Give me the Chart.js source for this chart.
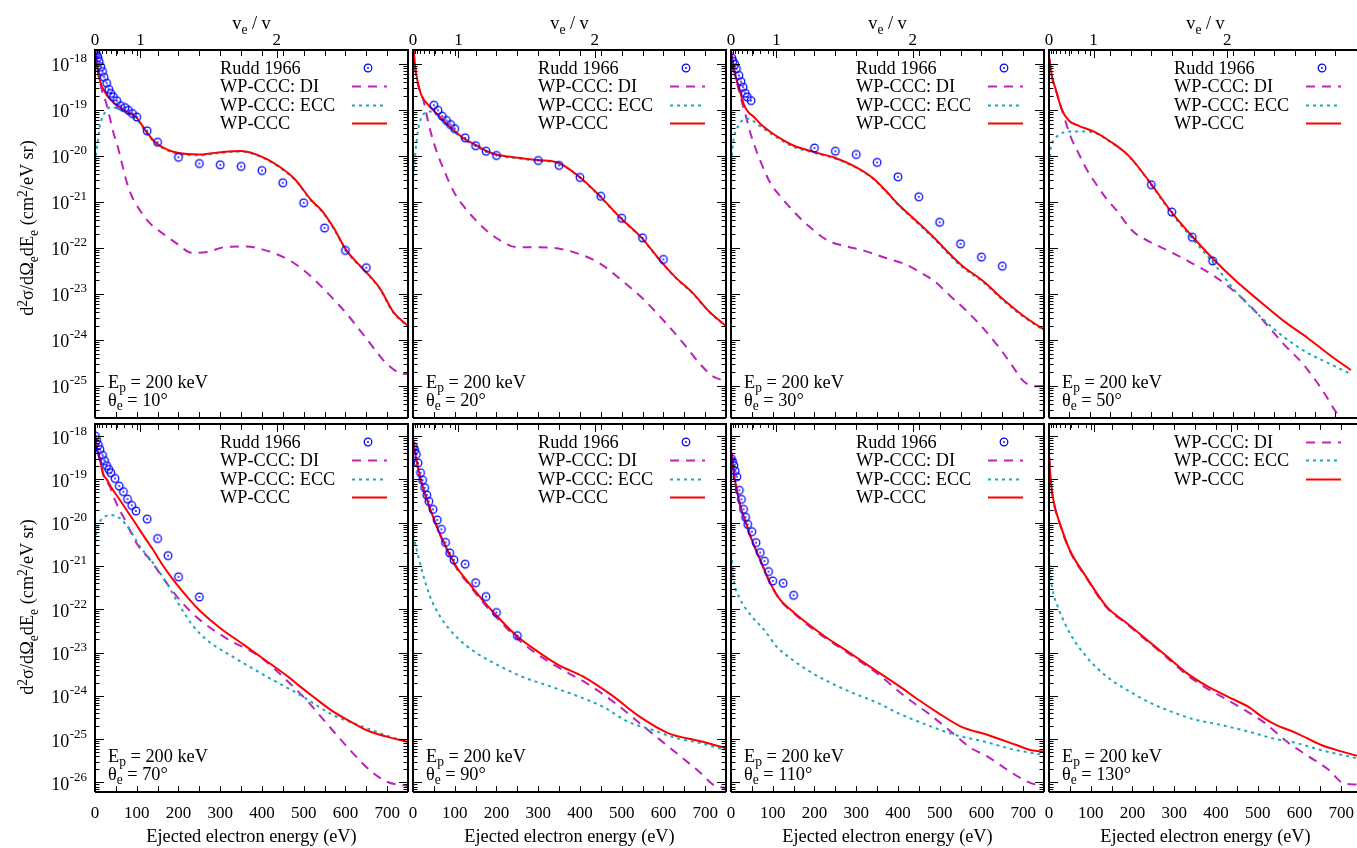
<!DOCTYPE html>
<html>
<head>
<meta charset="utf-8">
<title>WP-CCC vs Rudd 1966</title>
<script src="https://cdn.jsdelivr.net/npm/chart.js@4.4.1/dist/chart.umd.min.js"></script>
<style>
html,body{margin:0;padding:0;background:#fff;}
#wrap{position:relative;width:1357px;height:848px;overflow:hidden;background:#fff;font-family:"Liberation Serif","Times New Roman",serif;color:#000;}
#wrap canvas{position:absolute;left:0;top:0;}
.tx{position:absolute;white-space:nowrap;font-size:18.3px;line-height:19px;height:19px;}
.tx sub{position:relative;top:0.34em;font-size:0.74em;vertical-align:baseline;line-height:0;}
.tx sup{position:relative;top:-0.45em;font-size:0.74em;vertical-align:baseline;line-height:0;}
</style>
</head>
<body>
<div id="wrap"></div>
<script>
// ---------------- DATA ----------------
const angles = [10, 20, 30, 50, 70, 90, 110, 130];
const xTickLabels = [0, 100, 200, 300, 400, 500, 600, 700];
const veTickLabels = [0, 1, 2];
const legendLabels = ["Rudd 1966", "WP-CCC: DI", "WP-CCC: ECC", "WP-CCC"];
const protonEnergyKeV = 200;

// theta = 10
const rudd10E = [1, 4, 7, 10, 14, 18, 22, 28, 33, 38, 44, 52, 61, 72, 80, 90, 100, 125, 150, 200, 250, 300, 350, 400, 450, 500, 550, 600, 650];
const rudd10V = [1.7e-18, 1.58e-18, 1.38e-18, 1.12e-18, 8.7e-19, 6.8e-19, 5.1e-19, 3.8e-19, 2.8e-19, 2.27e-19, 1.92e-19, 1.58e-19, 1.23e-19, 1.12e-19, 9.8e-20, 8.3e-20, 7.0e-20, 3.5e-20, 1.98e-20, 9.3e-21, 6.8e-21, 6.4e-21, 5.9e-21, 4.8e-21, 2.6e-21, 9.5e-22, 2.7e-22, 8.8e-23, 3.7e-23];
const ccc10E = [1, 4, 8, 12, 16, 22, 28, 35, 48, 73, 100, 122, 147, 175, 200, 250, 300, 350, 403, 451, 479, 519, 543, 571, 603, 651, 683, 715, 750];
const ccc10V = [1.8e-18, 1.1e-18, 6.0e-19, 4.3e-19, 3.3e-19, 2.6e-19, 2.1e-19, 1.75e-19, 1.35e-19, 9.4e-20, 6.7e-20, 3.45e-20, 1.87e-20, 1.35e-20, 1.15e-20, 1.07e-20, 1.2e-20, 1.28e-20, 9.3e-21, 5.1e-21, 3.1e-21, 1.07e-21, 6.5e-22, 2.8e-22, 8.7e-23, 2.9e-23, 1.3e-23, 4e-24, 2.0e-24];
const ecc10E = [0, 2, 5, 8, 12, 20, 30, 40, 50, 73, 100, 122, 147, 175, 200, 250, 300, 350, 403, 451, 479, 519, 543, 571, 603, 651, 683, 715, 750];
const ecc10V = [5e-21, 1.0e-20, 1.6e-20, 2.5e-20, 4.6e-20, 7.6e-20, 1.05e-19, 1.15e-19, 1.1e-19, 8.6e-20, 6.2e-20, 3.3e-20, 1.8e-20, 1.3e-20, 1.1e-20, 1.03e-20, 1.16e-20, 1.24e-20, 9.0e-21, 4.9e-21, 3.0e-21, 1.03e-21, 6.3e-22, 2.7e-22, 8.4e-23, 2.8e-23, 1.26e-23, 3.9e-24, 1.95e-24];
const di10E = [1, 4, 8, 12, 16, 20, 26, 36, 44, 54, 64, 74, 88, 108, 132, 164, 196, 232, 268, 315, 363, 411, 467, 515, 555, 603, 651, 699, 731, 750];
const di10V = [1.8e-18, 1.1e-18, 5.9e-19, 4.0e-19, 2.8e-19, 2.0e-19, 1.5e-19, 6.5e-20, 3.2e-20, 1.66e-20, 7.2e-21, 3.1e-21, 1.34e-21, 6.5e-22, 3.4e-22, 2.0e-22, 1.24e-22, 7.8e-23, 8.1e-23, 1.05e-22, 1.07e-22, 8.7e-23, 5.3e-23, 2.5e-23, 1.1e-23, 3.7e-24, 1.05e-24, 3.0e-25, 1.9e-25, 1.8e-25];

// theta = 20
const rudd20E = [50, 60, 70, 80, 90, 100, 125, 150, 175, 200, 300, 350, 400, 450, 500, 550, 600];
const rudd20V = [1.26e-19, 9.8e-20, 7.3e-20, 5.9e-20, 4.8e-20, 3.9e-20, 2.46e-20, 1.66e-20, 1.26e-20, 1.02e-20, 7.9e-21, 6.2e-21, 3.4e-21, 1.32e-21, 4.4e-22, 1.65e-22, 5.6e-23];
const ccc20E = [1, 3, 7, 12, 20, 36, 51, 75, 99, 124, 148, 173, 200, 251, 299, 348, 397, 448, 497, 548, 597, 631, 670, 709, 750];
const ccc20V = [2.0e-18, 1.4e-18, 6.5e-19, 3.8e-19, 2.1e-19, 1.3e-19, 9.3e-20, 5.6e-20, 3.5e-20, 2.3e-20, 1.78e-20, 1.31e-20, 1.07e-20, 9.1e-21, 8.1e-21, 7.1e-21, 3.6e-21, 1.33e-21, 4.5e-22, 1.65e-22, 4.7e-23, 2.2e-23, 1.05e-23, 4.2e-24, 2.0e-24];
const ecc20E = [0.5, 4, 12, 24, 40, 51, 75, 99, 124, 148, 173, 200, 251, 299, 348, 397, 448, 497, 548, 597, 631, 670, 709, 750];
const ecc20V = [3.5e-21, 8e-21, 3.6e-20, 7.7e-20, 9.2e-20, 8.6e-20, 5.3e-20, 3.3e-20, 2.2e-20, 1.7e-20, 1.26e-20, 1.03e-20, 8.8e-21, 7.8e-21, 6.9e-21, 3.5e-21, 1.3e-21, 4.4e-22, 1.6e-22, 4.6e-23, 2.15e-23, 1.02e-23, 4.1e-24, 1.95e-24];
const di20E = [1, 3, 7, 12, 18, 26, 36, 51, 75, 99, 124, 148, 178, 212, 246, 299, 348, 397, 446, 499, 553, 601, 650, 689, 719, 750];
const di20V = [2.0e-18, 1.35e-18, 6.2e-19, 3.5e-19, 2.4e-19, 1.5e-19, 5.6e-20, 1.78e-20, 4.7e-21, 1.58e-21, 7.5e-22, 4.2e-22, 2.3e-22, 1.39e-22, 1.04e-22, 1.03e-22, 9.7e-23, 7.4e-23, 4.7e-23, 2.0e-23, 7.5e-24, 2.6e-24, 8e-25, 2.9e-25, 1.6e-25, 1.26e-25];

// theta = 30
const rudd30E = [2, 5, 9, 13, 19, 24, 29, 34, 39, 48, 200, 250, 300, 350, 400, 450, 500, 550, 600, 650];
const rudd30V = [1.35e-18, 1.14e-18, 9.7e-19, 7.8e-19, 5.6e-19, 4.1e-19, 3.1e-19, 2.3e-19, 1.9e-19, 1.59e-19, 1.48e-20, 1.26e-20, 1.07e-20, 7.2e-21, 3.5e-21, 1.29e-21, 3.6e-22, 1.22e-22, 6.3e-23, 4.0e-23];
const ccc30E = [1, 3, 7, 12, 21, 31, 41, 55, 70, 99, 125, 148, 201, 250, 295, 340, 372, 400, 449, 483, 551, 604, 652, 701, 750];
const ccc30V = [1.8e-18, 1.3e-18, 8.0e-19, 5.0e-19, 2.6e-19, 1.3e-19, 9.0e-20, 7.0e-20, 5.0e-20, 3.1e-20, 2.2e-20, 1.7e-20, 1.2e-20, 9.0e-21, 6.0e-21, 3.3e-21, 1.7e-21, 9.0e-22, 3.5e-22, 1.78e-22, 4.3e-23, 1.9e-23, 7.6e-24, 3.3e-24, 1.66e-24];
const ecc30E = [0.5, 2, 6, 17, 31, 43, 55, 70, 99, 125, 148, 201, 250, 295, 340, 372, 400, 449, 483, 551, 604, 652, 701, 750];
const ecc30V = [5e-21, 1.0e-20, 2.2e-20, 4.4e-20, 6.2e-20, 6.4e-20, 5.6e-20, 4.4e-20, 2.9e-20, 2.05e-20, 1.6e-20, 1.15e-20, 8.7e-21, 5.8e-21, 3.2e-21, 1.65e-21, 8.7e-22, 3.3e-22, 1.7e-22, 4.0e-23, 1.8e-23, 7.2e-24, 3.15e-24, 1.6e-24];
const di30E = [1, 3, 7, 12, 20, 27, 35, 47, 71, 95, 119, 157, 196, 235, 274, 322, 371, 420, 449, 487, 526, 565, 604, 643, 672, 701, 730, 750];
const di30V = [1.8e-18, 1.3e-18, 7.8e-19, 4.8e-19, 2.4e-19, 1.38e-19, 7.7e-20, 3.0e-20, 7.5e-21, 2.5e-21, 1.3e-21, 5.3e-22, 2.5e-22, 1.39e-22, 1.09e-22, 8.5e-23, 6.0e-23, 4.3e-23, 3.1e-23, 1.9e-23, 8.9e-24, 4.2e-24, 1.8e-24, 6.7e-25, 2.9e-25, 1.26e-25, 9.8e-26, 1e-25];

// theta = 50
const rudd50E = [250, 300, 350, 400];
const rudd50V = [2.35e-21, 6.0e-22, 1.7e-22, 5.2e-23];
const ccc50E = [1, 7, 17, 31, 49, 73, 110, 150, 195, 249, 297, 346, 399, 457, 515, 574, 632, 690, 738];
const ccc50V = [1.3e-18, 5.5e-19, 2.7e-19, 1.02e-19, 5.8e-20, 4.5e-20, 3.35e-20, 2.05e-20, 1.0e-20, 2.5e-21, 6.4e-22, 1.95e-22, 6.0e-23, 1.9e-23, 6.9e-24, 2.55e-24, 1.1e-24, 4.4e-25, 2.2e-25];
const ecc50E = [0.3, 2, 5, 12, 25, 49, 73, 110, 150, 195, 249, 297, 346, 399, 457, 515, 574, 632, 690, 738];
const ecc50V = [4.7e-21, 9e-21, 1.6e-20, 2.2e-20, 2.9e-20, 3.4e-20, 3.4e-20, 3.2e-20, 2.0e-20, 9.8e-21, 2.4e-21, 6.0e-22, 1.75e-22, 5.0e-23, 1.1e-23, 3.3e-24, 1.15e-24, 5.2e-25, 2.9e-25, 1.8e-25];
const di50E = [1, 7, 17, 29, 53, 73, 93, 117, 137, 165, 205, 244, 293, 341, 399, 448, 496, 535, 574, 622, 670, 700, 738];
const di50V = [1.3e-18, 5.3e-19, 2.6e-19, 1.2e-19, 2.6e-20, 1.1e-20, 4.9e-21, 2.3e-21, 1.28e-21, 6.5e-22, 2.3e-22, 1.39e-22, 8.5e-23, 5.1e-23, 2.6e-23, 1.23e-23, 5e-24, 2e-24, 8e-25, 2.9e-25, 7.6e-26, 2.8e-26, 1e-26];

// theta = 70
const rudd70E = [1, 4, 8, 12, 18, 23, 28, 33, 38, 48, 58, 68, 78, 88, 98, 125, 150, 175, 200, 250];
const rudd70V = [1.0e-18, 8.1e-19, 6.2e-19, 4.9e-19, 3.6e-19, 2.7e-19, 2.07e-19, 1.7e-19, 1.42e-19, 1.05e-19, 7.0e-20, 5.2e-20, 3.5e-20, 2.5e-20, 1.86e-20, 1.21e-20, 4.3e-21, 1.73e-21, 5.6e-22, 1.92e-22];
const ccc70E = [1, 3, 7, 12, 20, 28, 40, 60, 92, 123, 140, 162, 188, 228, 250, 298, 357, 405, 464, 491, 523, 571, 610, 651, 699, 748];
const ccc70V = [9.5e-19, 6.5e-19, 4.3e-19, 2.8e-19, 1.3e-19, 1.0e-19, 6.3e-20, 3.3e-20, 1.14e-20, 4.0e-21, 2.3e-21, 1.05e-21, 4.7e-22, 1.6e-22, 9.5e-23, 3.8e-23, 1.5e-23, 7.0e-24, 2.7e-24, 1.65e-24, 9.5e-25, 4.3e-25, 2.6e-25, 1.6e-25, 1.14e-25, 8.7e-26];
const ecc70E = [0.3, 4, 8, 20, 36, 60, 84, 108, 140, 172, 204, 236, 268, 331, 411, 491, 571, 651, 700, 748];
const ecc70V = [3.6e-21, 6.5e-21, 9e-21, 1.3e-20, 1.5e-20, 1.26e-20, 6.7e-21, 2.8e-21, 1.14e-21, 4.0e-22, 1.15e-22, 4.0e-23, 1.95e-23, 7.9e-24, 2.8e-24, 1.05e-24, 3.6e-25, 1.8e-25, 1.2e-25, 8.7e-26];
const di70E = [1, 3, 7, 12, 20, 28, 36, 48, 72, 100, 132, 172, 204, 252, 316, 395, 459, 507, 555, 611, 659, 699, 748];
const di70V = [9.5e-19, 6.5e-19, 4.2e-19, 2.7e-19, 1.25e-19, 9e-20, 6.7e-20, 3.3e-20, 1.14e-20, 3.3e-21, 1.38e-21, 4.0e-22, 1.6e-22, 5.6e-23, 2.1e-23, 8e-24, 2.3e-24, 7.9e-25, 2.3e-25, 5.6e-26, 1.9e-26, 1.04e-26, 8.3e-27];

// theta = 90
const rudd90E = [1, 4, 8, 12, 18, 23, 28, 33, 38, 48, 58, 68, 78, 88, 98, 125, 150, 175, 200, 250];
const rudd90V = [5.7e-19, 4.8e-19, 3.8e-19, 2.4e-19, 1.42e-19, 9.6e-20, 6.4e-20, 4.35e-20, 3.1e-20, 2.03e-20, 1.15e-20, 7.0e-21, 3.5e-21, 2.0e-21, 1.38e-21, 1.1e-21, 4.1e-22, 1.96e-22, 8.4e-23, 2.45e-23];
const ccc90E = [1, 2, 7, 17, 31, 51, 75, 104, 134, 173, 202, 251, 299, 348, 407, 475, 543, 611, 689, 748];
const ccc90V = [7.5e-19, 6.2e-19, 3.3e-19, 1.15e-19, 4.0e-20, 1.15e-20, 3.3e-21, 9.6e-22, 4e-22, 1.38e-22, 6.8e-23, 2.3e-23, 1.05e-23, 5.2e-24, 2.8e-24, 1.05e-24, 3.3e-25, 1.38e-25, 8.9e-26, 6.2e-26];
const ecc90E = [0.3, 7, 21, 41, 65, 104, 153, 202, 260, 329, 397, 455, 514, 572, 631, 689, 748];
const ecc90V = [5.2e-21, 2.8e-21, 8.1e-22, 1.96e-22, 6.8e-23, 2.3e-23, 9.6e-24, 5.2e-24, 2.8e-24, 1.65e-24, 9.6e-25, 5.6e-25, 2.55e-25, 1.65e-25, 1.05e-25, 8.1e-26, 5.6e-26];
const di90E = [1, 7, 17, 31, 51, 75, 104, 134, 173, 202, 251, 299, 358, 416, 485, 533, 592, 641, 689, 719, 748];
const di90V = [7.3e-19, 3.2e-19, 1.1e-19, 3.8e-20, 1.1e-20, 3.1e-21, 9e-22, 3.7e-22, 1.25e-22, 6.2e-23, 2.05e-23, 9.0e-24, 4e-24, 1.95e-24, 6.7e-25, 2.8e-25, 9.6e-26, 4e-26, 1.65e-26, 8.9e-27, 7.4e-27];

// theta = 110
const rudd110E = [1, 4, 7, 10, 14, 20, 25, 30, 35, 40, 50, 60, 70, 80, 90, 100, 125, 150];
const rudd110V = [3.0e-19, 2.56e-19, 2.07e-19, 1.56e-19, 1.15e-19, 5.6e-20, 3.45e-20, 2.03e-20, 1.33e-20, 9.1e-21, 6.2e-21, 3.45e-21, 2.04e-21, 1.29e-21, 7.4e-22, 4.5e-22, 4.0e-22, 2.1e-22];
const ccc110E = [0.5, 2, 7, 14, 23, 36, 50, 70, 94, 118, 148, 177, 225, 274, 332, 410, 449, 497, 551, 614, 682, 720, 750];
const ccc110V = [4.2e-19, 3.6e-19, 1.38e-19, 5.6e-20, 2.3e-20, 9.6e-21, 4e-21, 1.38e-21, 4e-22, 1.65e-22, 8.9e-23, 5.2e-23, 2.35e-23, 1.15e-23, 4.8e-24, 1.5e-24, 8.1e-25, 4e-25, 1.95e-25, 1.26e-25, 7.4e-26, 5.5e-26, 5.2e-26];
const ecc110E = [0.3, 7, 21, 50, 80, 109, 148, 196, 274, 352, 400, 468, 536, 604, 682, 750];
const ecc110V = [1.95e-21, 4.5e-22, 1.8e-22, 6.8e-23, 3.3e-23, 1.38e-23, 6.7e-24, 3.3e-24, 1.38e-24, 6.8e-25, 4e-25, 2.15e-25, 1.26e-25, 8.9e-26, 5.6e-26, 4.3e-26];
const di110E = [0.5, 2, 7, 14, 23, 36, 50, 70, 94, 118, 148, 177, 225, 274, 332, 352, 415, 478, 536, 575, 614, 662, 701, 730, 750];
const di110V = [4.2e-19, 3.6e-19, 1.37e-19, 5.5e-20, 2.25e-20, 9.4e-21, 3.9e-21, 1.35e-21, 3.9e-22, 1.6e-22, 8.5e-23, 4.9e-23, 2.2e-23, 1.08e-23, 4.4e-24, 3.2e-24, 1.0e-24, 3.6e-25, 1.26e-25, 6.2e-26, 4e-26, 1.95e-26, 1.15e-26, 8.9e-27, 8.7e-27];

// theta = 130 (no Rudd data)
const ccc130E = [0.5, 4, 12, 26, 50, 89, 138, 186, 235, 283, 331, 380, 428, 477, 516, 545, 593, 651, 700, 738];
const ccc130V = [3.3e-19, 9.6e-20, 2.8e-20, 9.6e-21, 2.3e-21, 5.6e-22, 1.15e-22, 4.8e-23, 1.95e-23, 8.1e-24, 3.3e-24, 1.65e-24, 9.6e-25, 5.6e-25, 3.0e-25, 2.1e-25, 1.38e-25, 7.4e-26, 5.2e-26, 4.1e-26];
const ecc130E = [0.3, 7, 21, 50, 89, 138, 186, 244, 302, 351, 409, 477, 535, 593, 651, 738];
const ecc130V = [1.15e-21, 3.3e-22, 1.15e-22, 2.8e-23, 8.1e-24, 2.8e-24, 1.38e-24, 6.8e-25, 4e-25, 2.8e-25, 2.15e-25, 1.5e-25, 1.05e-25, 8.1e-26, 5.6e-26, 3.6e-26];
const di130E = [0.5, 4, 12, 26, 50, 89, 138, 186, 235, 283, 331, 380, 428, 477, 516, 545, 574, 622, 670, 705, 738];
const di130V = [3.2e-19, 9.4e-20, 2.7e-20, 9.3e-21, 2.2e-21, 5.4e-22, 1.1e-22, 4.6e-23, 1.85e-23, 7.6e-24, 3.0e-24, 1.45e-24, 8e-25, 4.2e-25, 2.4e-25, 1.4e-25, 8.1e-26, 4e-26, 1.95e-26, 9.6e-27, 8.9e-27];

// ---------------- LAYOUT / STYLE ----------------
const PAGE_W = 1357, PAGE_H = 848;
const colLeft = [95, 413, 731, 1049];
const rowTop = [50, 424];
const rowHeight = [368, 368];
const panelWidth = 313;
const xFullMax = 750;
const yRanges = [[2e-26, 2e-18], [6e-27, 1.9e-18]];
const COL_DI = '#bb22bb', COL_ECC = '#1fa9b8', COL_CCC = '#ff0000', COL_RUDD = '#0000ff';
const FONT = '"Liberation Serif","Times New Roman",serif';

const panels = [
  {rudd: [rudd10E, rudd10V], ccc: [ccc10E, ccc10V], ecc: [ecc10E, ecc10V], di: [di10E, di10V]},
  {rudd: [rudd20E, rudd20V], ccc: [ccc20E, ccc20V], ecc: [ecc20E, ecc20V], di: [di20E, di20V]},
  {rudd: [rudd30E, rudd30V], ccc: [ccc30E, ccc30V], ecc: [ecc30E, ecc30V], di: [di30E, di30V]},
  {rudd: [rudd50E, rudd50V], ccc: [ccc50E, ccc50V], ecc: [ecc50E, ecc50V], di: [di50E, di50V]},
  {rudd: [rudd70E, rudd70V], ccc: [ccc70E, ccc70V], ecc: [ecc70E, ecc70V], di: [di70E, di70V]},
  {rudd: [rudd90E, rudd90V], ccc: [ccc90E, ccc90V], ecc: [ecc90E, ecc90V], di: [di90E, di90V]},
  {rudd: [rudd110E, rudd110V], ccc: [ccc110E, ccc110V], ecc: [ecc110E, ecc110V], di: [di110E, di110V]},
  {rudd: null, ccc: [ccc130E, ccc130V], ecc: [ecc130E, ecc130V], di: [di130E, di130V]}
];

const pts = (E, V) => E.map((x, i) => ({x: x, y: V[i]}));

function makeMarker() {
  const c = document.createElement('canvas');
  c.width = 12; c.height = 12;
  const g = c.getContext('2d');
  g.strokeStyle = COL_RUDD; g.lineWidth = 1.25;
  g.beginPath(); g.arc(6, 6, 3.8, 0, 2 * Math.PI); g.stroke();
  g.fillStyle = COL_RUDD;
  g.beginPath(); g.arc(6, 6, 0.9, 0, 2 * Math.PI); g.fill();
  return c;
}
const marker = makeMarker();

// electron energy (eV) for a given v_e/v at the proton energy
const eFromVe = (r) => protonEnergyKeV * 1000 / 1836.15 * r * r;

const gpPlugin = {
  id: 'gp',
  afterDraw(chart) {
    const o = chart.options.plugins.gp;
    const ctx = chart.ctx, a = chart.chartArea, xs = chart.scales.x, ys = chart.scales.y;
    ctx.save();
    ctx.strokeStyle = '#000';
    ctx.lineWidth = 1;
    ctx.beginPath();
    const lmin = Math.floor(Math.log10(ys.min)), lmax = Math.ceil(Math.log10(ys.max));
    for (let e = lmin; e <= lmax; e++) {
      for (let m = 1; m <= 9; m++) {
        const v = m * Math.pow(10, e);
        if (v < ys.min || v > ys.max) continue;
        const py = Math.round(ys.getPixelForValue(v)) + 0.5;
        const len = m === 1 ? 9 : 4.5;
        ctx.moveTo(a.left, py); ctx.lineTo(a.left + len, py);
        if (!o.clipRight) { ctx.moveTo(a.right, py); ctx.lineTo(a.right - len, py); }
      }
    }
    for (let t = 0; t <= xFullMax; t += 50) {
      if (t > xs.max) continue;
      const px = Math.round(xs.getPixelForValue(t)) + 0.5;
      ctx.moveTo(px, a.bottom); ctx.lineTo(px, a.bottom - 6);
      ctx.moveTo(px, a.top); ctx.lineTo(px, a.top + 6);
    }
    for (let k = 1; k <= 9; k++) {
      const px = Math.round(xs.getPixelForValue(eFromVe(k / 10))) + 0.5;
      ctx.moveTo(px, a.top); ctx.lineTo(px, a.top + 4);
    }
    veTickLabels.forEach(r => {
      const px = Math.round(xs.getPixelForValue(eFromVe(r))) + 0.5;
      ctx.moveTo(px, a.top); ctx.lineTo(px, a.top + 8);
    });
    ctx.stroke();

    ctx.lineWidth = 2;
    ctx.beginPath();
    ctx.moveTo(a.left, a.bottom); ctx.lineTo(a.left, a.top);
    ctx.lineTo(o.clipRight ? PAGE_W : a.right, a.top);
    if (!o.clipRight) ctx.lineTo(a.right, a.bottom);
    ctx.moveTo(o.clipRight ? PAGE_W : a.right, a.bottom); ctx.lineTo(a.left, a.bottom);
    ctx.stroke();

    ctx.fillStyle = '#000';
    if (o.yLabels) {
      for (let e = lmin; e <= lmax; e++) {
        const v = Math.pow(10, e);
        if (v < ys.min || v > ys.max) continue;
        const py = ys.getPixelForValue(v);
        const exp = String(e);
        ctx.font = '13px ' + FONT;
        const we = ctx.measureText(exp).width;
        const right = a.left - 8;
        ctx.textAlign = 'left'; ctx.textBaseline = 'alphabetic';
        ctx.fillText(exp, right - we, py - 1.5);
        ctx.font = '18px ' + FONT;
        ctx.textAlign = 'right';
        ctx.fillText('10', right - we - 0.5, py + 7.5);
      }
    }
    if (o.xLabels) {
      ctx.font = '17px ' + FONT;
      ctx.textAlign = 'center'; ctx.textBaseline = 'alphabetic';
      xTickLabels.forEach(t => {
        if (t > xs.max) return;
        ctx.fillText(String(t), xs.getPixelForValue(t), a.bottom + 25.5);
      });
    }
    if (o.topLabels) {
      ctx.font = '17px ' + FONT;
      ctx.textAlign = 'center'; ctx.textBaseline = 'alphabetic';
      veTickLabels.forEach(r => {
        ctx.fillText(String(r), xs.getPixelForValue(eFromVe(r)), a.top - 5);
      });
    }
    const ds = chart.data.datasets;
    o.legendKeys.forEach((key, i) => {
      const d = ds.find(s => s.key === key);
      if (!d) return;
      const y = Math.round(a.top + 18 + i * 18.3) + 0.5;
      const x1 = a.left + 257, x2 = a.left + 292;
      if (key === 'rudd') {
        ctx.drawImage(marker, a.left + 273 - 6, y - 6.5);
      } else {
        ctx.save();
        ctx.strokeStyle = d.borderColor;
        ctx.lineWidth = d.borderWidth;
        ctx.setLineDash(d.borderDash || []);
        ctx.beginPath(); ctx.moveTo(x1, y); ctx.lineTo(x2, y); ctx.stroke();
        ctx.restore();
      }
    });
    ctx.restore();
  }
};

const wrap = document.getElementById('wrap');

function addText(html, x, y, mode) {
  const d = document.createElement('div');
  d.className = 'tx';
  d.innerHTML = html;
  d.style.left = x + 'px';
  d.style.top = y + 'px';
  let tr = 'translateY(-50%)';
  if (mode === 'center') tr = 'translate(-50%,-50%)';
  if (mode === 'rot') tr = 'translate(-50%,-50%) rotate(-90deg)';
  d.style.transform = tr;
  wrap.appendChild(d);
}

panels.forEach((p, k) => {
  const col = k % 4, row = Math.floor(k / 4);
  const L = colLeft[col], T = rowTop[row], H = rowHeight[row];
  const W = Math.min(panelWidth, PAGE_W - L);
  const clipRight = (L + panelWidth > PAGE_W);
  const xmax = xFullMax * W / panelWidth;
  const cv = document.createElement('canvas');
  cv.width = PAGE_W; cv.height = PAGE_H;
  wrap.appendChild(cv);

  const datasets = [];
  const legendKeys = [];
  if (p.rudd) {
    datasets.push({key: 'rudd', label: legendLabels[0], data: pts(p.rudd[0], p.rudd[1]), showLine: false,
      pointStyle: marker, pointRadius: 5, borderColor: COL_RUDD, backgroundColor: COL_RUDD});
    legendKeys.push('rudd');
  }
  datasets.push({key: 'ccc', label: legendLabels[3], data: pts(p.ccc[0], p.ccc[1]), showLine: true,
    borderColor: COL_CCC, borderWidth: 2, pointRadius: 0, cubicInterpolationMode: 'monotone'});
  datasets.push({key: 'ecc', label: legendLabels[2], data: pts(p.ecc[0], p.ecc[1]), showLine: true,
    borderColor: COL_ECC, borderWidth: 2, borderDash: [3, 4], pointRadius: 0, cubicInterpolationMode: 'monotone'});
  datasets.push({key: 'di', label: legendLabels[1], data: pts(p.di[0], p.di[1]), showLine: true,
    borderColor: COL_DI, borderWidth: 2, borderDash: [9, 7], pointRadius: 0, cubicInterpolationMode: 'monotone'});
  legendKeys.push('di', 'ecc', 'ccc');

  new Chart(cv, {
    type: 'scatter',
    data: {datasets: datasets},
    options: {
      responsive: false,
      animation: false,
      events: [],
      layout: {padding: {left: L, top: T, right: PAGE_W - L - W, bottom: PAGE_H - T - H}},
      scales: {
        x: {type: 'linear', min: 0, max: xmax, display: false},
        y: {type: 'logarithmic', min: yRanges[row][0], max: yRanges[row][1], display: false}
      },
      plugins: {
        legend: {display: false},
        tooltip: {enabled: false},
        gp: {yLabels: col === 0, xLabels: row === 1, topLabels: row === 0, clipRight: clipRight, legendKeys: legendKeys}
      }
    },
    plugins: [gpPlugin]
  });

  const lab = {rudd: legendLabels[0], di: legendLabels[1], ecc: legendLabels[2], ccc: legendLabels[3]};
  legendKeys.forEach((key, i) => addText(lab[key], L + 125, T + 18 + i * 18.3, 'left'));
  const B = T + H;
  addText('E<sub>p</sub> = ' + protonEnergyKeV + ' keV', L + 13, B - 36.5, 'left');
  addText('θ<sub>e</sub> = ' + angles[k] + '°', L + 13, B - 18.5, 'left');
  if (row === 0) addText('v<sub>e</sub> / v', L + panelWidth / 2, 23, 'center');
  if (row === 1) addText('Ejected electron energy (eV)', L + panelWidth / 2, 836, 'center');
  if (col === 0) addText('d<sup>2</sup>σ/dΩ<sub>e</sub>dE<sub>e</sub> (cm<sup>2</sup>/eV sr)', 27, row === 0 ? 228 : 607, 'rot');
});
</script>
</body>
</html>
